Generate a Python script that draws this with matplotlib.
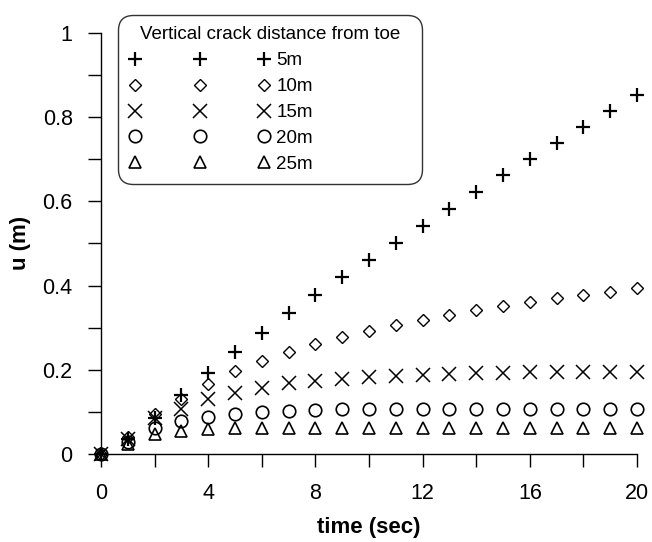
import matplotlib
matplotlib.use("Agg")
import matplotlib.pyplot as plt
from matplotlib.ticker import MultipleLocator

plt.rcParams['font.family'] = ['Liberation Sans', 'DejaVu Sans']

# displacement u (m) vs time for vertical cracks at different distances from the toe
time = list(range(21))
u_5m = [0, 0.035, 0.087, 0.14, 0.193, 0.242, 0.288, 0.334, 0.378, 0.42, 0.461,
        0.502, 0.542, 0.582, 0.621, 0.661, 0.70, 0.738, 0.776, 0.813, 0.851]
u_10m = [0, 0.04, 0.095, 0.13, 0.167, 0.197, 0.221, 0.242, 0.261, 0.279, 0.292,
         0.306, 0.318, 0.331, 0.342, 0.351, 0.36, 0.37, 0.377, 0.385, 0.393]
u_15m = [0, 0.035, 0.085, 0.108, 0.13, 0.146, 0.158, 0.168, 0.174, 0.179, 0.183,
         0.186, 0.188, 0.19, 0.192, 0.193, 0.194, 0.195, 0.195, 0.196, 0.196]
u_20m = [0, 0.03, 0.063, 0.079, 0.089, 0.095, 0.1, 0.103, 0.104, 0.106, 0.107,
         0.107, 0.108, 0.108, 0.108, 0.108, 0.108, 0.108, 0.108, 0.108, 0.108]
u_25m = [0, 0.025, 0.047, 0.054, 0.059, 0.061, 0.062, 0.062, 0.063, 0.063, 0.063,
         0.063, 0.063, 0.063, 0.063, 0.063, 0.063, 0.063, 0.063, 0.063, 0.063]
labels = ['5m', '10m', '15m', '20m', '25m']

fig = plt.figure(figsize=(6.52, 5.42), dpi=100)
ax = fig.add_axes([0.155, 0.162, 0.822, 0.778])

series = [u_5m, u_10m, u_15m, u_20m, u_25m]
styles = [dict(marker='+', ms=10, mew=1.6),
          dict(marker='D', ms=6.5, mew=1.0, mfc='none'),
          dict(marker='x', ms=10, mew=1.1),
          dict(marker='o', ms=9, mew=1.2, mfc='none'),
          dict(marker='^', ms=9, mew=1.2, mfc='none')]
for u, lab, st in zip(series, labels, styles):
    ax.plot(time, u, linestyle='none', color='black', mec='black',
            label=lab, clip_on=False, **st)

ax.set_xlim(0, 20)
ax.set_ylim(0, 1)
ax.xaxis.set_major_locator(MultipleLocator(4))
ax.xaxis.set_minor_locator(MultipleLocator(2))
ax.yaxis.set_major_locator(MultipleLocator(0.2))
ax.yaxis.set_minor_locator(MultipleLocator(0.1))
ax.yaxis.set_major_formatter(plt.FuncFormatter(lambda v, p: f'{v:g}'))

for side in ['top', 'right']:
    ax.spines[side].set_visible(False)
for side in ['left', 'bottom']:
    ax.spines[side].set_linewidth(1.0)

ax.tick_params(which='both', direction='out', length=9.4, width=1.0)
ax.tick_params(which='major', labelsize=15.5, pad=11)

ax.set_xlabel('time (sec)', fontsize=16, fontweight='bold', labelpad=10)
ax.set_ylabel('u (m)', fontsize=16, fontweight='bold', labelpad=8)

# three symbols per row, label after the last one
leg = ax.legend(title='Vertical crack distance from toe', title_fontsize=13.5,
                fontsize=13.5, numpoints=3, handlelength=7.5, handletextpad=0.35,
                labelspacing=0.47, borderpad=0.6, loc='upper left',
                bbox_to_anchor=(0.181, 0.9723 - 0.3, 0.466, 0.3),
                bbox_transform=fig.transFigure, mode='expand', borderaxespad=0,
                framealpha=1, fancybox=True)
frame = leg.get_frame()
frame.set_edgecolor('#333333')
frame.set_linewidth(1.0)
frame.set_boxstyle('round', pad=0, rounding_size=0.8)

fig.savefig('out.png', dpi=100)
